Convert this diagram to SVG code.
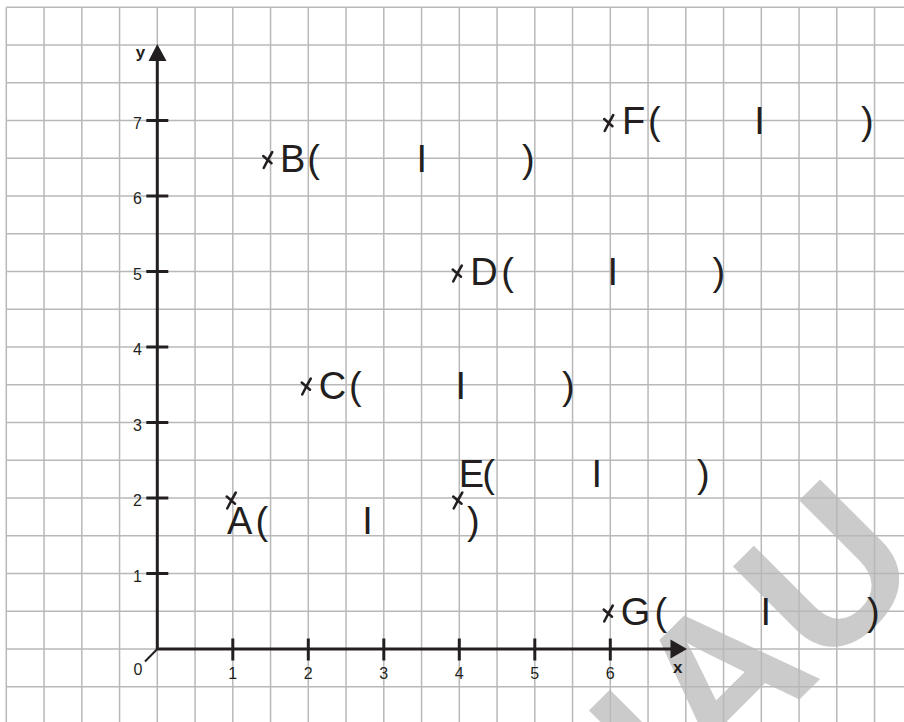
<svg xmlns="http://www.w3.org/2000/svg" xmlns:xlink="http://www.w3.org/1999/xlink" width="904" height="722" viewBox="0 0 904 722">
<style>
.grid line{stroke:#b8b8b8;stroke-width:1.5}
.ax{stroke:#231f20;stroke-width:3;fill:none}
.tk{stroke:#231f20;stroke-width:3}
.num{font-family:"Liberation Sans",Arial,sans-serif;font-size:16px;fill:#231f20}
.axl{font-family:"Liberation Sans",Arial,sans-serif;font-size:17px;font-weight:bold;fill:#231f20;text-anchor:middle}
.lab{font-family:"Liberation Sans",Arial,sans-serif;font-size:38px;fill:#231f20}
.wm{font-family:"Liberation Sans",Arial,sans-serif;font-size:205px;font-weight:bold;fill:#cbcbcb}
</style>
<defs>
<path id="mk" d="M4.3,-8 Q0.5,-1.5 -4.3,8 M-4.8,-4 L3.5,3.2" stroke="#231f20" stroke-width="2.5" fill="none" stroke-linecap="round"/>
</defs>
<rect width="904" height="722" fill="#ffffff"/>
<text class="wm" transform="translate(679,820) rotate(-45)">IAU</text>
<g id="grid" class="grid">
<line x1="6.3" y1="7.25" x2="6.3" y2="722"/>
<line x1="44.05" y1="7.25" x2="44.05" y2="722"/>
<line x1="81.8" y1="7.25" x2="81.8" y2="722"/>
<line x1="119.55" y1="7.25" x2="119.55" y2="722"/>
<line x1="157.3" y1="7.25" x2="157.3" y2="722"/>
<line x1="195.05" y1="7.25" x2="195.05" y2="722"/>
<line x1="232.8" y1="7.25" x2="232.8" y2="722"/>
<line x1="270.55" y1="7.25" x2="270.55" y2="722"/>
<line x1="308.3" y1="7.25" x2="308.3" y2="722"/>
<line x1="346.05" y1="7.25" x2="346.05" y2="722"/>
<line x1="383.8" y1="7.25" x2="383.8" y2="722"/>
<line x1="421.55" y1="7.25" x2="421.55" y2="722"/>
<line x1="459.3" y1="7.25" x2="459.3" y2="722"/>
<line x1="497.05" y1="7.25" x2="497.05" y2="722"/>
<line x1="534.8" y1="7.25" x2="534.8" y2="722"/>
<line x1="572.55" y1="7.25" x2="572.55" y2="722"/>
<line x1="610.3" y1="7.25" x2="610.3" y2="722"/>
<line x1="648.05" y1="7.25" x2="648.05" y2="722"/>
<line x1="685.8" y1="7.25" x2="685.8" y2="722"/>
<line x1="723.55" y1="7.25" x2="723.55" y2="722"/>
<line x1="761.3" y1="7.25" x2="761.3" y2="722"/>
<line x1="799.05" y1="7.25" x2="799.05" y2="722"/>
<line x1="836.8" y1="7.25" x2="836.8" y2="722"/>
<line x1="874.55" y1="7.25" x2="874.55" y2="722"/>
<line x1="6.3" y1="7.25" x2="904" y2="7.25"/>
<line x1="6.3" y1="45" x2="904" y2="45"/>
<line x1="6.3" y1="82.75" x2="904" y2="82.75"/>
<line x1="6.3" y1="120.5" x2="904" y2="120.5"/>
<line x1="6.3" y1="158.25" x2="904" y2="158.25"/>
<line x1="6.3" y1="196" x2="904" y2="196"/>
<line x1="6.3" y1="233.75" x2="904" y2="233.75"/>
<line x1="6.3" y1="271.5" x2="904" y2="271.5"/>
<line x1="6.3" y1="309.25" x2="904" y2="309.25"/>
<line x1="6.3" y1="347" x2="904" y2="347"/>
<line x1="6.3" y1="384.75" x2="904" y2="384.75"/>
<line x1="6.3" y1="422.5" x2="904" y2="422.5"/>
<line x1="6.3" y1="460.25" x2="904" y2="460.25"/>
<line x1="6.3" y1="498" x2="904" y2="498"/>
<line x1="6.3" y1="535.75" x2="904" y2="535.75"/>
<line x1="6.3" y1="573.5" x2="904" y2="573.5"/>
<line x1="6.3" y1="611.25" x2="904" y2="611.25"/>
<line x1="6.3" y1="649" x2="904" y2="649"/>
<line x1="6.3" y1="686.75" x2="904" y2="686.75"/>
</g>
<g id="axes">
<line class="ax" x1="157.3" y1="649" x2="157.3" y2="56"/>
<line class="ax" x1="157.3" y1="649" x2="674" y2="649"/>
<polygon points="157.3,44 148.5,61 166.5,61" fill="#231f20"/>
<polygon points="687,649 670.5,639.5 670.5,658.5" fill="#231f20"/>
<line x1="157.3" y1="649" x2="145" y2="661.5" stroke="#231f20" stroke-width="2"/>
<g class="tk">
<line x1="232.8" y1="638.5" x2="232.8" y2="660.5"/>
<line x1="308.3" y1="638.5" x2="308.3" y2="660.5"/>
<line x1="383.8" y1="638.5" x2="383.8" y2="660.5"/>
<line x1="459.3" y1="638.5" x2="459.3" y2="660.5"/>
<line x1="534.8" y1="638.5" x2="534.8" y2="660.5"/>
<line x1="610.3" y1="638.5" x2="610.3" y2="660.5"/>
<line x1="146.3" y1="573.5" x2="168.3" y2="573.5"/>
<line x1="146.3" y1="498" x2="168.3" y2="498"/>
<line x1="146.3" y1="422.5" x2="168.3" y2="422.5"/>
<line x1="146.3" y1="347" x2="168.3" y2="347"/>
<line x1="146.3" y1="271.5" x2="168.3" y2="271.5"/>
<line x1="146.3" y1="196" x2="168.3" y2="196"/>
<line x1="146.3" y1="120.5" x2="168.3" y2="120.5"/>
</g>
<g class="num" text-anchor="middle">
<text x="232.8" y="679">1</text>
<text x="308.3" y="679">2</text>
<text x="383.8" y="679">3</text>
<text x="459.3" y="679">4</text>
<text x="534.8" y="679">5</text>
<text x="610.3" y="679">6</text>
<text x="138" y="675">0</text>
</g>
<g class="num" text-anchor="end">
<text x="142" y="581.5">1</text>
<text x="142" y="506">2</text>
<text x="142" y="430.5">3</text>
<text x="142" y="355">4</text>
<text x="142" y="279.5">5</text>
<text x="142" y="204">6</text>
<text x="142" y="128.5">7</text>
</g>
<text class="axl" x="140.5" y="58">y</text>
<text class="axl" x="677.7" y="673.3">x</text>
</g>
<g id="pointA"><use xlink:href="#mk" href="#mk" x="231.5" y="500.5"/><text class="lab"><tspan x="227" y="534">A</tspan><tspan x="255.6" y="534">(</tspan><tspan x="362.3" y="534">I</tspan><tspan x="467" y="534">)</tspan></text></g>
<g id="pointB"><use xlink:href="#mk" href="#mk" x="268" y="160"/><text class="lab"><tspan x="280" y="172">B</tspan><tspan x="307.3" y="172">(</tspan><tspan x="416.6" y="172">I</tspan><tspan x="522" y="172">)</tspan></text></g>
<g id="pointC"><use xlink:href="#mk" href="#mk" x="306.5" y="386.5"/><text class="lab"><tspan x="318.7" y="398.5">C</tspan><tspan x="349" y="398.5">(</tspan><tspan x="455.6" y="398.5">I</tspan><tspan x="562" y="398.5">)</tspan></text></g>
<g id="pointD"><use xlink:href="#mk" href="#mk" x="457.5" y="273.5"/><text class="lab"><tspan x="470.3" y="285">D</tspan><tspan x="501.3" y="285">(</tspan><tspan x="607.6" y="285">I</tspan><tspan x="712.5" y="285">)</tspan></text></g>
<g id="pointE"><use xlink:href="#mk" href="#mk" x="458" y="500.5"/><text class="lab"><tspan x="458.7" y="487">E</tspan><tspan x="482.3" y="487">(</tspan><tspan x="591.5" y="487">I</tspan><tspan x="697" y="487">)</tspan></text></g>
<g id="pointF"><use xlink:href="#mk" href="#mk" x="609" y="123"/><text class="lab"><tspan x="622" y="133.5">F</tspan><tspan x="648" y="133.5">(</tspan><tspan x="754.3" y="133.5">I</tspan><tspan x="861" y="133.5">)</tspan></text></g>
<g id="pointG"><use xlink:href="#mk" href="#mk" x="608.5" y="613.5"/><text class="lab"><tspan x="620.7" y="625">G</tspan><tspan x="654.6" y="625">(</tspan><tspan x="760.6" y="625">I</tspan><tspan x="867" y="625">)</tspan></text></g>
</svg>
